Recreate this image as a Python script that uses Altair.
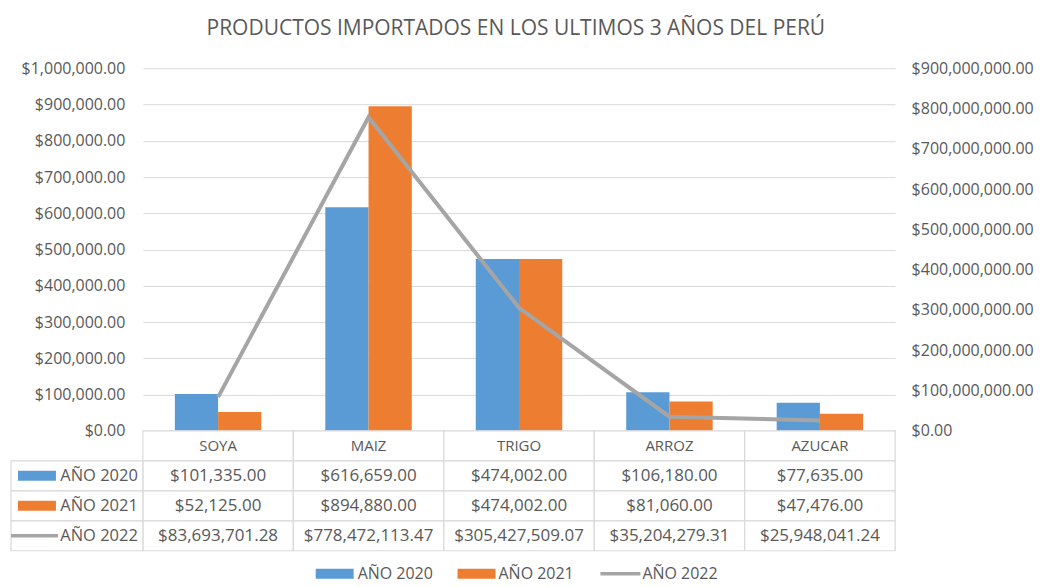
import altair as alt
import pandas as pd

# ---------------- data ----------------
categorias = ["SOYA", "MAIZ", "TRIGO", "ARROZ", "AZUCAR"]
series = ["AÑO 2020", "AÑO 2021", "AÑO 2022"]
anio_2020 = [101335.00, 616659.00, 474002.00, 106180.00, 77635.00]
anio_2021 = [52125.00, 894880.00, 474002.00, 81060.00, 47476.00]
anio_2022 = [83693701.28, 778472113.47, 305427509.07, 35204279.31, 25948041.24]
ticks_izq = [0, 100000, 200000, 300000, 400000, 500000, 600000, 700000, 800000, 900000, 1000000]
ticks_der = [0, 100000000, 200000000, 300000000, 400000000, 500000000,
             600000000, 700000000, 800000000, 900000000]
colores = ["#5B9BD5", "#ED7D31", "#A5A5A5"]
titulo = "PRODUCTOS IMPORTADOS EN LOS ULTIMOS 3 AÑOS DEL PERÚ"

FONT = "Open Sans"
TXT = "#595959"
GRID = "#D9D9D9"

bars_df = pd.DataFrame({
    "cat": categorias * 2,
    "serie": [series[0]] * 5 + [series[1]] * 5,
    "valor": anio_2020 + anio_2021,
})
line_df = pd.DataFrame({"cat": categorias, "serie": series[2], "valor": anio_2022})
vals_df = pd.DataFrame({
    "cat": categorias * 3,
    "fila": [series[0]] * 5 + [series[1]] * 5 + [series[2]] * 5,
    "valor": anio_2020 + anio_2021 + anio_2022,
})
head_df = pd.DataFrame({"cat": categorias, "fila": "cab"})
leg_df = pd.DataFrame({"fila": series})

filas = ["cab"] + series
color_scale = alt.Scale(domain=series, range=colores)
x_scale = alt.Scale(domain=categorias, paddingInner=0, paddingOuter=0)

W, H = 753, 363
TH = 120

# ---------------- top chart ----------------
bars = alt.Chart(bars_df).mark_bar().encode(
    x=alt.X("cat:N", sort=categorias, scale=x_scale, axis=None),
    xOffset=alt.XOffset("serie:N", sort=series[:2],
                        scale=alt.Scale(paddingInner=0, paddingOuter=0.74)),
    y=alt.Y("valor:Q", scale=alt.Scale(domain=[0, 1000000], nice=False),
            axis=alt.Axis(values=ticks_izq, format="$,.2f", title=None, domain=False,
                          ticks=False, labelPadding=18, grid=True, gridColor=GRID,
                          labelFont=FONT, labelFontSize=16, labelColor=TXT)),
    color=alt.Color("serie:N", scale=color_scale, legend=None),
)

line = alt.Chart(line_df).mark_line(strokeWidth=4, color=colores[2]).encode(
    x=alt.X("cat:N", sort=categorias, scale=x_scale, axis=None),
    y=alt.Y("valor:Q", scale=alt.Scale(domain=[0, 900000000], nice=False),
            axis=alt.Axis(orient="right", values=ticks_der, format="$,.2f", title=None,
                          domain=False, ticks=False, grid=False, labelPadding=16,
                          labelFont=FONT, labelFontSize=16, labelColor=TXT)),
)

top = alt.layer(bars, line).resolve_scale(y="independent").properties(width=W, height=H)

# ---------------- data table ----------------
xt = alt.X("cat:N", sort=categorias, scale=x_scale, axis=None)
yt = alt.Y("fila:N", sort=filas, scale=alt.Scale(domain=filas, paddingInner=0, paddingOuter=0), axis=None)

cells = alt.Chart(pd.concat([head_df, vals_df[["cat", "fila"]]])).mark_rect(
    fill="white", stroke=GRID, strokeWidth=1.2).encode(x=xt, y=yt)

head_txt = alt.Chart(head_df).mark_text(font=FONT, fontSize=15, color=TXT).encode(
    x=xt, y=yt, text="cat:N")

val_txt = alt.Chart(vals_df).mark_text(font=FONT, fontSize=17, color=TXT).encode(
    x=xt, y=yt, text=alt.Text("valor:Q", format="$,.2f"))

leg_cells = alt.Chart(leg_df).mark_rect(fill="white", stroke=GRID, strokeWidth=1.2).encode(
    x=alt.value(-132), x2=alt.value(0), y=yt)

leg_txt = alt.Chart(leg_df).mark_text(font=FONT, fontSize=16.5, color=TXT, align="right").encode(
    x=alt.value(-5), y=yt, text="fila:N")

leg_sw = alt.Chart(leg_df).transform_filter(
    alt.FieldOneOfPredicate(field="fila", oneOf=series[:2])
).mark_tick(orient="horizontal", thickness=10, size=38, opacity=1).encode(
    x=alt.value(-106), y=yt,
    color=alt.Color("fila:N", scale=color_scale, legend=None))

leg_ln = alt.Chart(leg_df).transform_filter(
    alt.FieldEqualPredicate(field="fila", equal=series[2])
).mark_tick(orient="horizontal", thickness=3.5, size=47, opacity=1).encode(
    x=alt.value(-108.5), y=yt,
    color=alt.Color("fila:N", scale=color_scale, legend=None))

# bottom legend
LY = 143
leg_items = []
sw_x = [192, 334, 478]
tx_x = [215, 356, 500]
for i, s in enumerate(series):
    d = pd.DataFrame({"fila": [s]})
    if i < 2:
        sw = alt.Chart(d).mark_tick(orient="horizontal", thickness=10, size=38, opacity=1)
    else:
        sw = alt.Chart(d).mark_tick(orient="horizontal", thickness=3.5, size=40, opacity=1)
    leg_items.append(sw.encode(x=alt.value(sw_x[i]), y=alt.value(LY),
                               color=alt.Color("fila:N", scale=color_scale, legend=None)))
    leg_items.append(alt.Chart(d).mark_text(font=FONT, fontSize=16, color=TXT, align="left").encode(
        x=alt.value(tx_x[i]), y=alt.value(LY), text="fila:N"))

bottom = alt.layer(cells, head_txt, val_txt, leg_cells, leg_txt, leg_sw, leg_ln, *leg_items).properties(
    width=W, height=TH)

chart = alt.vconcat(top, bottom, spacing=0, bounds="flush").properties(
    title=alt.Title(titulo, font=FONT, fontSize=21, fontWeight="normal", color=TXT,
                    anchor="middle", offset=21, dx=-6),
    padding={"left": 2, "top": 10, "right": 0, "bottom": 3},
).configure_view(stroke=None)

chart.save("out.html", embed_options={"renderer": "svg", "actions": False})
